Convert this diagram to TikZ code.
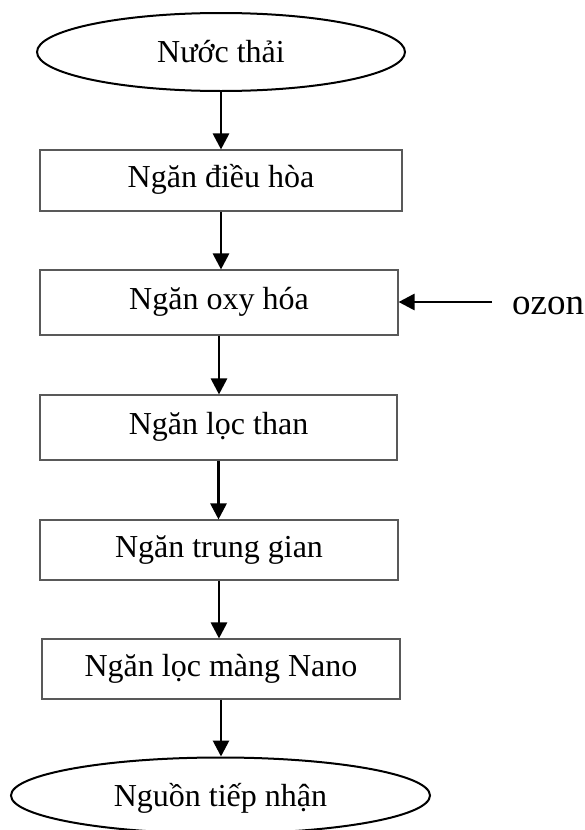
\documentclass[tikz,border=0pt]{standalone}
\usepackage{fontspec}
\setmainfont{Liberation Serif}
\usetikzlibrary{arrows.meta,shapes.geometric}
\begin{document}
\begin{tikzpicture}[x=1pt,y=-1pt,
  boxst/.style={draw=black!65, line width=1.1pt, rectangle, inner sep=0pt,
    minimum width=358pt, minimum height=61pt,
    text height=22.4pt, text depth=8pt, font=\fontsize{32}{38}\selectfont},
  ellst/.style={draw=black, line width=2pt, ellipse, inner sep=0pt,
    text height=21pt, text depth=0pt, font=\fontsize{32}{38}\selectfont},
  arr/.style={line width=2.8pt, -{Triangle[length=16pt,width=16pt]}}]
\useasboundingbox (0,0) rectangle (585,830);
\clip (0,0) rectangle (585,830);
\node[ellst, minimum width=368pt, minimum height=78pt] (e1) at (221,52) {Nước thải};
\node[boxst, minimum width=362pt, minimum height=61pt] (b1) at (221,180.5) {Ngăn điều hòa};
\node[boxst, minimum width=358pt, minimum height=65pt] (b2) at (219,302.5) {Ngăn oxy hóa};
\node[boxst, minimum width=357pt, minimum height=65pt] (b3) at (218.5,427.5) {Ngăn lọc than};
\node[boxst, minimum width=358pt, minimum height=60pt] (b4) at (219,550) {Ngăn trung gian};
\node[boxst, minimum width=358pt, minimum height=60pt] (b5) at (221,669) {Ngăn lọc màng Nano};
\node[ellst, minimum width=419pt, minimum height=76pt] (e2) at (220.5,795.5) {Nguồn tiếp nhận};
\node[anchor=base west, inner sep=0pt, font=\fontsize{37}{42}\selectfont] (oz) at (512,314) {ozon};
\coordinate (ozt) at (492,302);
\draw[arr] (e1.south) -- (e1.south |- b1.north);
\draw[arr] (b1.south) -- (b1.south |- b2.north);
\draw[arr] (b2.south) -- (b2.south |- b3.north);
\draw[arr] (b3.south) -- (b3.south |- b4.north);
\draw[arr] (b4.south) -- (b4.south |- b5.north);
\draw[arr] (b5.south) -- (b5.south |- e2.north);
\draw[arr] (ozt) -- (b2.east |- ozt);
\end{tikzpicture}
\end{document}
